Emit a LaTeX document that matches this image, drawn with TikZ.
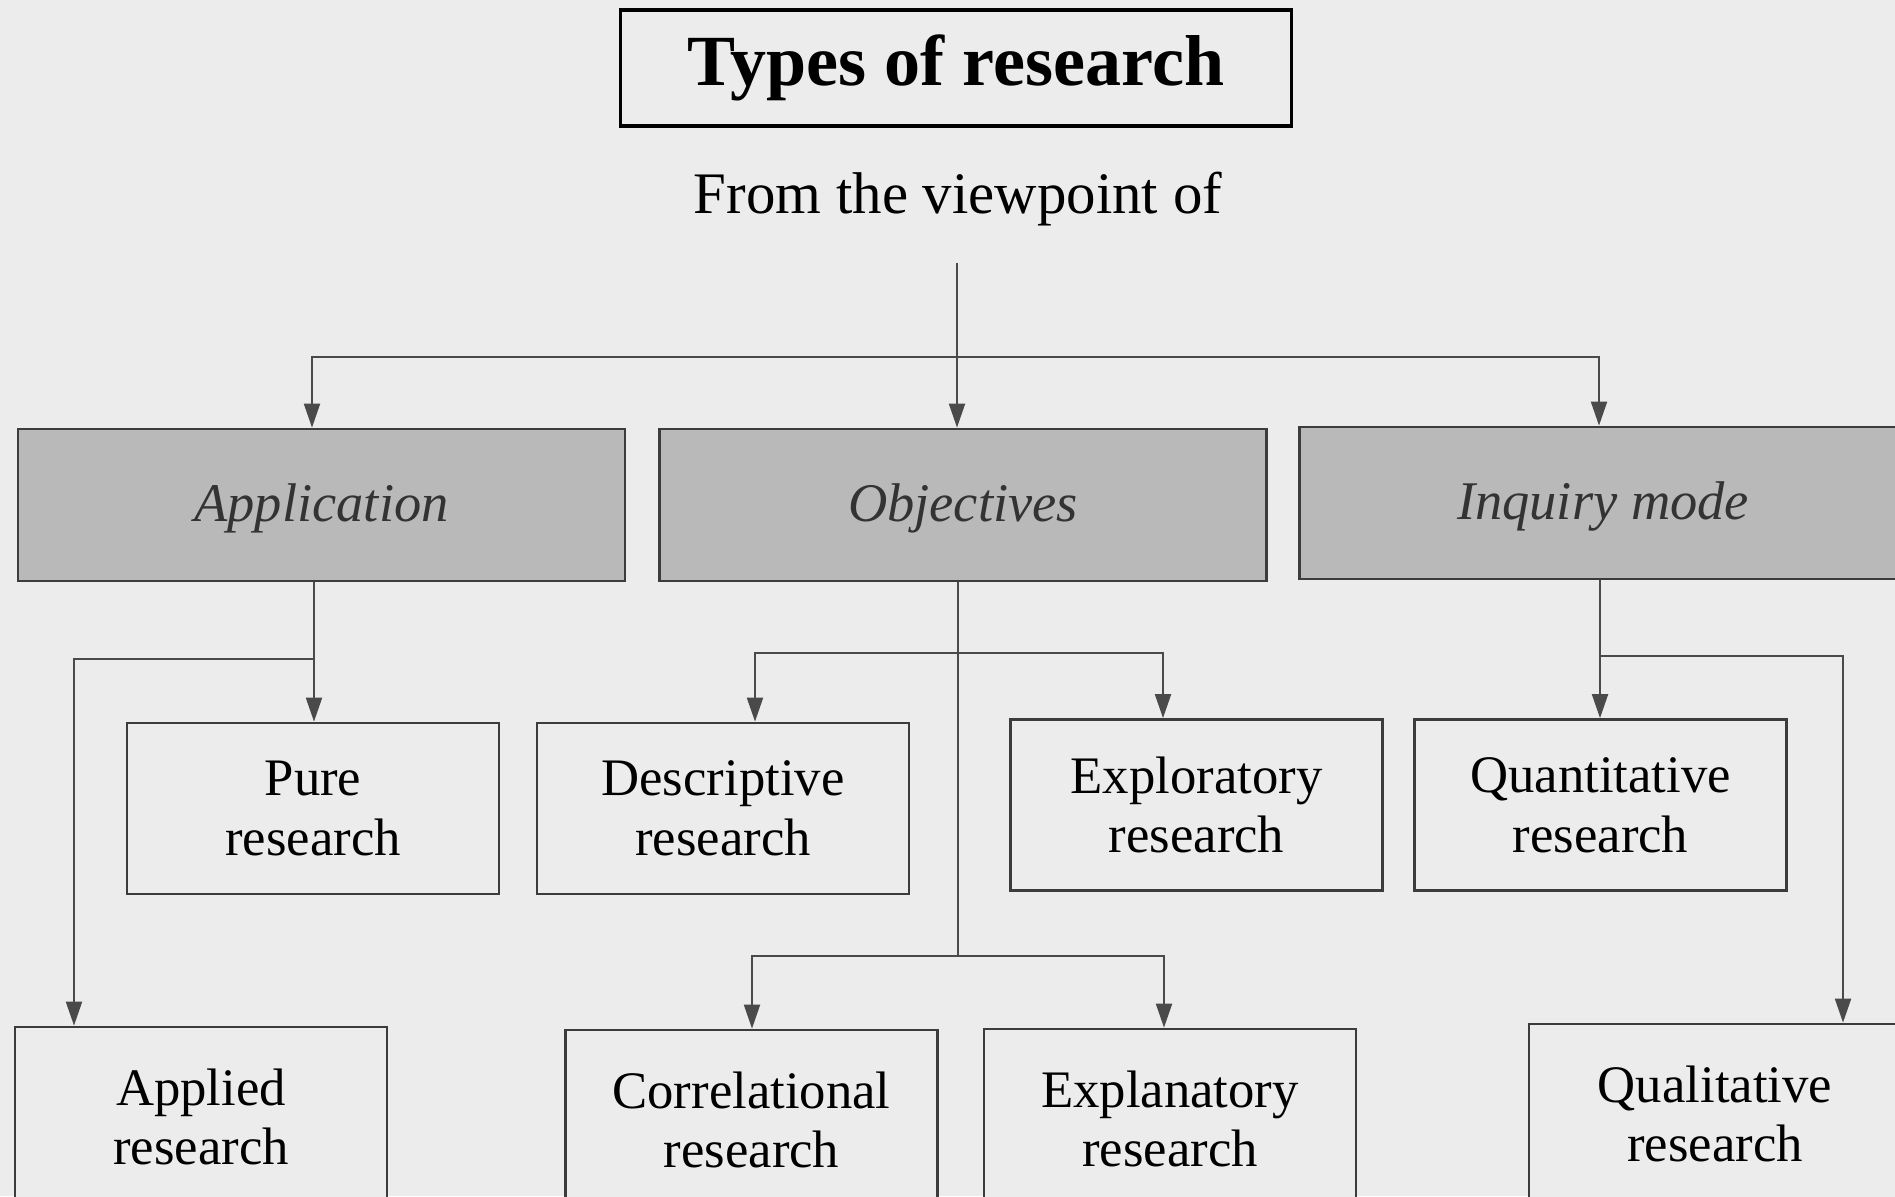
\documentclass[tikz,border=0pt]{standalone}
\usepackage{fontspec}
\setmainfont{Liberation Serif}
\usetikzlibrary{arrows.meta}
\definecolor{bgcol}{HTML}{ECECEC}
\definecolor{catcol}{HTML}{B9B9B9}
\definecolor{edgecol}{HTML}{3C3C3C}
\definecolor{linecol}{HTML}{4A4A4A}
\begin{document}
\begin{tikzpicture}[x=0.02cm, y=-0.02cm, >={Triangle[length=0.48cm,width=0.32cm]},
  catbox/.style={draw=edgecol, line width=1.6pt, fill=catcol, inner sep=0,
    minimum width=12.14cm, minimum height=3.04cm, text depth=0.1cm,
    font=\fontsize{31}{36}\selectfont\itshape, text=black!80},
  typebox/.style={draw=edgecol, line width=1.6pt, fill=bgcol, inner sep=0,
    minimum width=7.44cm, minimum height=3.42cm, align=center,
    font=\fontsize{30}{34}\selectfont},
  conn/.style={draw=linecol, line width=1.2pt}]
\useasboundingbox (0,0) rectangle (1895,1196);
\clip (0,0) rectangle (1895,1196);
\fill[bgcol] (0,0) rectangle (1895,1196);

% title and heading
\node (title) at (956,68) [draw=black, line width=1.8pt, inner sep=0,
  minimum width=13.42cm, minimum height=2.32cm,
  font=\fontsize{41}{45}\selectfont\bfseries] {Types of research};
\node (view) at (958,199) [font=\fontsize{33.5}{38}\selectfont] {From the viewpoint of};

% viewpoints
\node (app) at (321.5,505) [catbox] {Application};
\node (obj) at (963,505) [catbox] {Objectives};
\node (inq) at (1603,503) [catbox] {Inquiry mode};

% types
\node (pure) at (313,808.5) [typebox] {Pure\\research};
\node (desc) at (723,808.5) [typebox] {Descriptive\\research};
\node (expl) at (1196.5,805) [typebox] {Exploratory\\research};
\node (quan) at (1600.5,805) [typebox] {Quantitative\\research};
\node (appl) at (201,1112.5) [typebox, minimum height=3.6cm, yshift=-0.09cm] {Applied\\research};
\node (corr) at (751.5,1115.5) [typebox, minimum height=3.6cm, yshift=-0.09cm] {Correlational\\research};
\node (expn) at (1170,1114.5) [typebox, minimum height=3.6cm, yshift=-0.09cm] {Explanatory\\research};
\node (qual) at (1715,1109.5) [typebox, minimum height=3.6cm, yshift=-0.09cm] {Qualitative\\research};

% branch points
\coordinate (vtop) at (957,263);
\coordinate (split) at (957,357);
\coordinate (sl) at (312,357);
\coordinate (sr) at (1599,357);
\coordinate (abr) at (314,659);
\coordinate (adrop) at (74,659);
\coordinate (oup) at (958,653);
\coordinate (dl) at (755,653);
\coordinate (dr) at (1163,653);
\coordinate (olow) at (958,956);
\coordinate (ll) at (752,956);
\coordinate (lr) at (1164,956);
\coordinate (ibr) at (1600,656);
\coordinate (idrop) at (1843,656);

\draw[conn, ->] (vtop) -- (vtop |- obj.north);
\draw[conn, ->] (split) -- (sl) -- (sl |- app.north);
\draw[conn, ->] (split) -- (sr) -- (sr |- inq.north);

\draw[conn, ->] (abr |- app.south) -- (abr |- pure.north);
\draw[conn, ->] (abr) -- (adrop) -- (adrop |- appl.north);

\draw[conn] (oup |- obj.south) -- (olow);
\draw[conn, ->] (oup) -- (dl) -- (dl |- desc.north);
\draw[conn, ->] (oup) -- (dr) -- (dr |- expl.north);
\draw[conn, ->] (olow) -- (ll) -- (ll |- corr.north);
\draw[conn, ->] (olow) -- (lr) -- (lr |- expn.north);

\draw[conn, ->] (ibr |- inq.south) -- (ibr |- quan.north);
\draw[conn, ->] (ibr) -- (idrop) -- (idrop |- qual.north);
\end{tikzpicture}
\end{document}
